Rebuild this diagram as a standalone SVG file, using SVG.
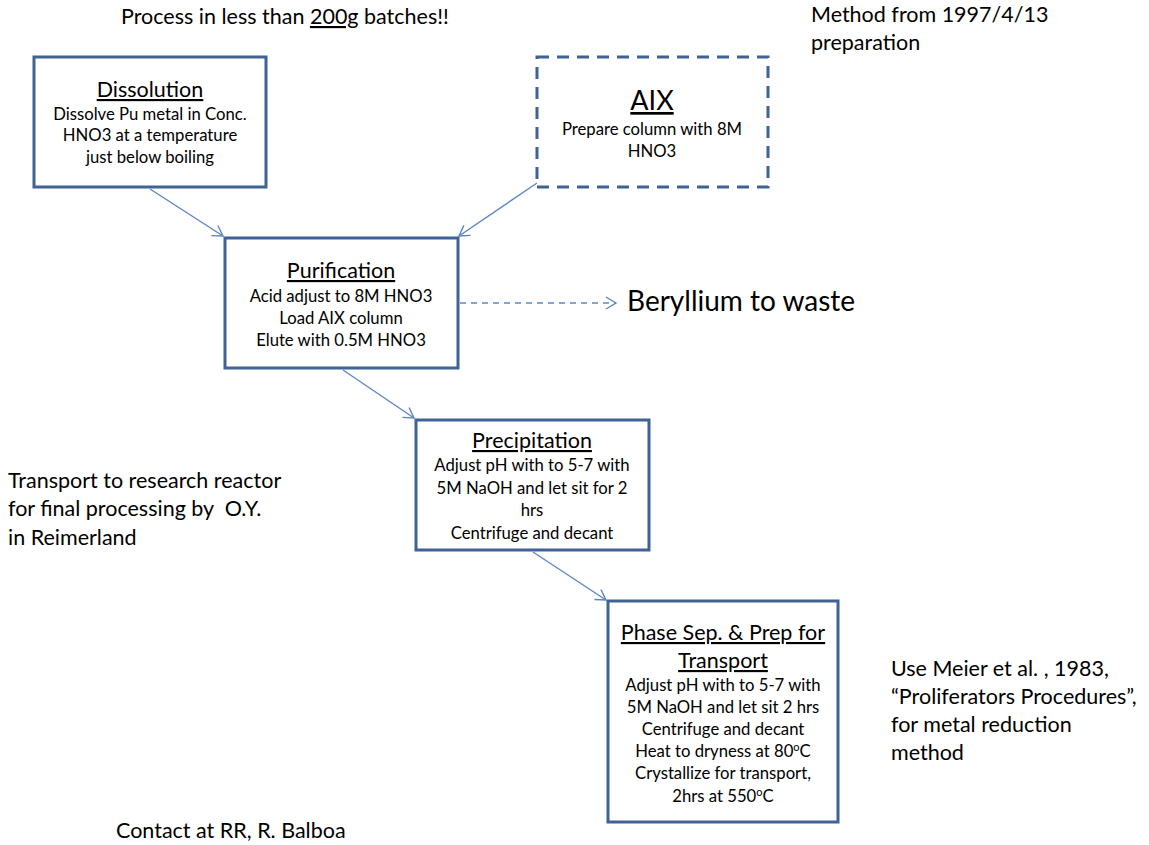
<svg xmlns="http://www.w3.org/2000/svg" width="1149" height="845" viewBox="0 0 1149 845">
<style>
text{font-family:Lato,"Open Sans","Liberation Sans",sans-serif;fill:#000}
.box{fill:#fff;stroke:#3f6393;stroke-width:3}
.dash{stroke-dasharray:12,8}
.t{font-size:21.5px;text-anchor:middle;text-decoration:underline}
.b{font-size:16.7px;text-anchor:middle}
.n{font-size:21.5px}
.c{fill:none;stroke:#5b87c6;stroke-width:1.4}
.sup{font-size:11px}
</style>
<defs>
<marker id="ah" markerWidth="14" markerHeight="14" refX="11" refY="7" orient="auto" markerUnits="userSpaceOnUse">
<path d="M1,1 L11,7 L1,13" fill="none" stroke="#5b87c6" stroke-width="1.4"/>
</marker>
</defs>
<rect width="1149" height="845" fill="#fff"/>
<g id="connectors">
<line class="c" x1="150" y1="189" x2="223" y2="236" marker-end="url(#ah)"/>
<line class="c" x1="537" y1="183" x2="459" y2="236" marker-end="url(#ah)"/>
<line class="c" x1="460" y1="303" x2="616" y2="303" stroke-dasharray="6,5" marker-end="url(#ah)"/>
<line class="c" x1="343" y1="370" x2="414" y2="418" marker-end="url(#ah)"/>
<line class="c" x1="533" y1="552" x2="606" y2="600" marker-end="url(#ah)"/>
</g>
<g id="dissolution">
<rect class="box" x="34" y="57" width="232" height="130"/>
<text class="t" x="150" y="97">Dissolution</text>
<text class="b" x="150" y="120">Dissolve Pu metal in Conc.</text>
<text class="b" x="150" y="141">HNO3 at a temperature</text>
<text class="b" x="150" y="163">just below boiling</text>
</g>
<g id="aix">
<rect class="box dash" x="537" y="57" width="231" height="130"/>
<text class="t" x="652" y="110" style="font-size:27px">AIX</text>
<text class="b" x="652" y="135">Prepare column with 8M</text>
<text class="b" x="652" y="157">HNO3</text>
</g>
<g id="purification">
<rect class="box" x="225" y="238" width="233" height="130"/>
<text class="t" x="341" y="278">Purification</text>
<text class="b" x="341" y="302">Acid adjust to 8M HNO3</text>
<text class="b" x="341" y="324">Load AIX column</text>
<text class="b" x="341" y="346">Elute with 0.5M HNO3</text>
</g>
<g id="beryllium">
<text x="627" y="311" style="font-size:28px">Beryllium to waste</text>
</g>
<g id="precipitation">
<rect class="box" x="416" y="420" width="233" height="130"/>
<text class="t" x="532" y="448">Precipitation</text>
<text class="b" x="532" y="471">Adjust pH with to 5-7 with</text>
<text class="b" x="532" y="494">5M NaOH and let sit for 2</text>
<text class="b" x="532" y="516">hrs</text>
<text class="b" x="532" y="539">Centrifuge and decant</text>
</g>
<g id="phasesep">
<rect class="box" x="608" y="601" width="230" height="221"/>
<text class="t" x="723" y="640">Phase Sep. &amp; Prep for</text>
<text class="t" x="723" y="668">Transport</text>
<text class="b" x="723" y="691">Adjust pH with to 5-7 with</text>
<text class="b" x="723" y="713">5M NaOH and let sit 2 hrs</text>
<text class="b" x="723" y="735">Centrifuge and decant</text>
<text class="b" x="723" y="757">Heat to dryness at 80<tspan class="sup" dy="-6">o</tspan><tspan dy="6">C</tspan></text>
<text class="b" x="723" y="779">Crystallize for transport,</text>
<text class="b" x="723" y="802">2hrs at 550<tspan class="sup" dy="-6">o</tspan><tspan dy="6">C</tspan></text>
</g>
<g id="notes">
<text class="n" x="121" y="24">Process in less than <tspan text-decoration="underline">200g</tspan> batches!!</text>
<text class="n" x="811" y="22">Method from 1997/4/13</text>
<text class="n" x="811" y="50">preparation</text>
<text class="n" x="8" y="488">Transport to research reactor</text>
<text class="n" x="8" y="516">for final processing by &#160;O.Y.</text>
<text class="n" x="8" y="545">in Reimerland</text>
<text class="n" x="891" y="676">Use Meier et al. , 1983,</text>
<text class="n" x="891" y="704">“Proliferators Procedures”,</text>
<text class="n" x="891" y="732">for metal reduction</text>
<text class="n" x="891" y="760">method</text>
<text class="n" x="116" y="838">Contact at RR, R. Balboa</text>
</g>
</svg>
